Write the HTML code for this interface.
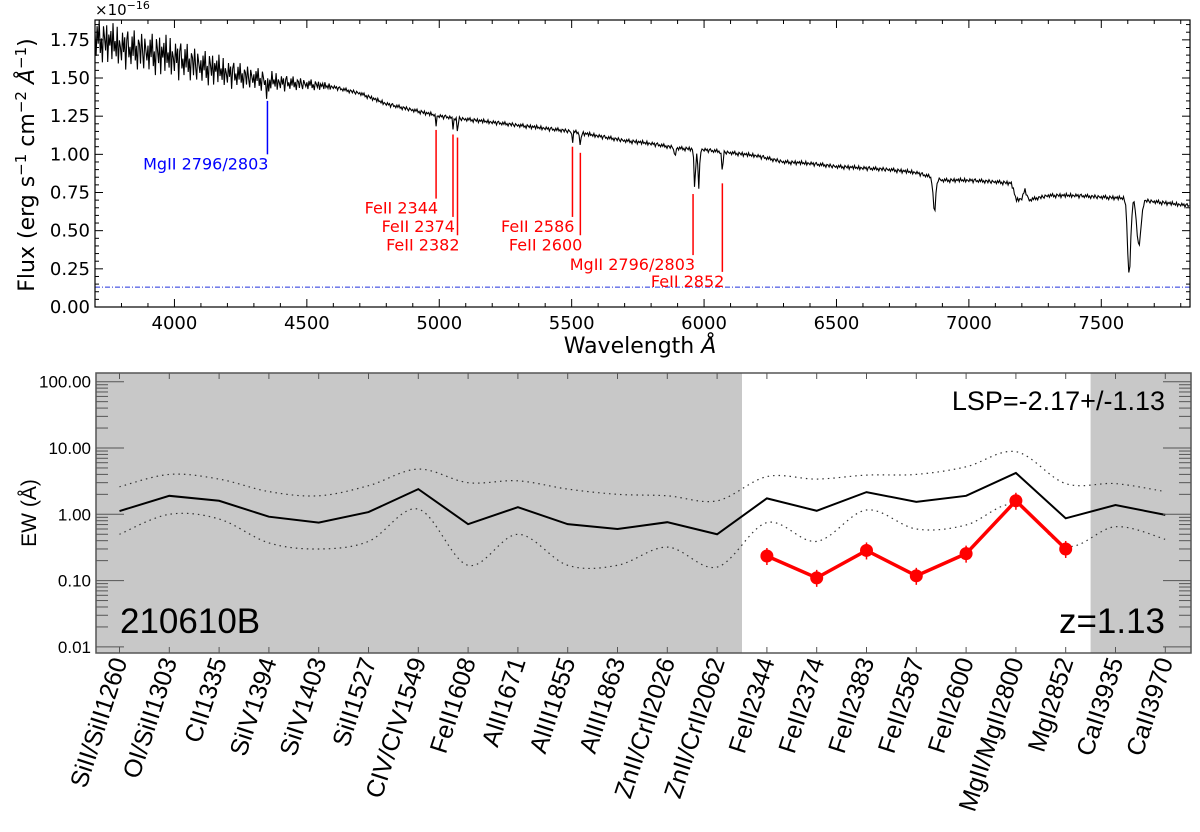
<!DOCTYPE html>
<html><head><meta charset="utf-8"><style>
html,body{margin:0;padding:0;background:#fff;}
svg{display:block;}
</style></head><body>
<svg id="fig" width="1200" height="832" viewBox="0 0 1200 832" xmlns="http://www.w3.org/2000/svg">
<g id="topPanel"></g>
<g id="botPanel"></g>
</svg>
<script>
// ---------- spectrum data ----------
const waveKnots = [3700,3800,3900,4000,4100,4200,4300,4400,4500,4600,4700,4800,4900,5000,5100,5200,5300,5400,5500,5600,5700,5800,5900,6000,6100,6200,6300,6400,6500,6600,6700,6800,6900,7000,7100,7160,7180,7200,7212,7225,7300,7400,7500,7600,7700,7800,7850];
const fluxKnots = [1.76,1.70,1.67,1.63,1.58,1.53,1.50,1.47,1.46,1.44,1.40,1.33,1.29,1.25,1.23,1.21,1.19,1.17,1.15,1.12,1.09,1.07,1.04,1.03,1.01,0.99,0.95,0.94,0.92,0.91,0.90,0.88,0.83,0.83,0.82,0.81,0.70,0.71,0.77,0.70,0.73,0.73,0.72,0.71,0.69,0.67,0.66];
const absWave  = [4346,4357,4988,5052,5069,5503,5533,5890,5965,5980,6069,6870,7605,7642];
const absDepth = [0.08,0.07,0.06,0.07,0.10,0.07,0.10,0.08,0.25,0.25,0.13,0.22,0.50,0.30];
const absWidth = [2.5,2.5,2,2,2,2,2,2,3,3,2.5,5,6,8];
const jitter = [0.3,-0.8,0.6,-0.2,0.9,-0.6,0.1,-1.0,0.7,0.2,-0.4,0.8,-0.9,0.4,-0.1,0.6,-0.7,1.0,-0.3,0.2,-0.5,0.9,-0.8,0.3,0.0,-0.6,0.7,-0.2,0.5,-1.0,0.4,0.8,-0.4,0.1,-0.7,0.6,-0.3,0.9,-0.5,0.2,-0.9,0.5,0.3,-0.6,0.8,-0.1,-0.8,0.6,0.1,-0.4];
const lineLabels = ["FeII 2344","FeII 2374","FeII 2382","FeII 2586","FeII 2600","MgII 2796/2803","FeII 2852"];
const lineRest = [2344,2374,2382,2586,2600,2800,2852];
const lineTop = [1.16,1.13,1.11,1.05,1.01,0.74,0.81];
const lineBot = [0.71,0.59,0.47,0.59,0.47,0.34,0.23];
const zAbs = 1.128;
const xTicksTop = [4000,4500,5000,5500,6000,6500,7000,7500];
const yTicksTop = [0,0.25,0.5,0.75,1.0,1.25,1.5,1.75];

// ---------- EW data ----------
const categories = ["SiII/SiII1260","OI/SiII1303","CII1335","SiIV1394","SiIV1403","SiII1527","CIV/CIV1549","FeII1608","AlII1671","AlIII1855","AlIII1863","ZnII/CrII2026","ZnII/CrII2062","FeII2344","FeII2374","FeII2383","FeII2587","FeII2600","MgII/MgII2800","MgI2852","CaII3935","CaII3970"];
const ewMean = [1.12,1.9,1.6,0.92,0.75,1.08,2.4,0.71,1.28,0.71,0.6,0.76,0.5,1.74,1.13,2.16,1.54,1.9,4.2,0.87,1.38,0.98];
const ewUpper = [2.6,4.0,3.4,2.2,1.9,2.7,4.8,3.0,3.2,2.4,2.0,1.9,1.6,3.7,3.4,3.9,4.0,5.2,8.8,2.9,2.9,2.2];
const ewLower = [0.5,1.0,0.85,0.37,0.3,0.39,1.2,0.17,0.5,0.17,0.17,0.32,0.16,0.75,0.39,1.16,0.6,0.69,1.4,0.33,0.65,0.42];
const obsIdx = [13,14,15,16,17,18,19];
const obsEW = [0.235,0.11,0.285,0.118,0.255,1.6,0.30];
const yTicksBot = [0.01,0.1,1,10,100];
const yTickLabelsBot = ["0.01","0.10","1.00","10.00","100.00"];

const NS="http://www.w3.org/2000/svg";
function mk(parent,tag,attrs,text){const e=document.createElementNS(NS,tag);for(const k in attrs)e.setAttribute(k,attrs[k]);if(text!==undefined)e.textContent=text;parent.appendChild(e);return e;}

// ---------- top panel ----------
const topG=document.getElementById('topPanel');
const TL=95,TR=1190,TT=20,TB=307;
const xMin=3700,xMax=7835,yMax=1.88;
const xT=w=>TL+(w-xMin)/(xMax-xMin)*(TR-TL);
const yT=f=>TB-f/yMax*(TB-TT);
function interp(w){for(let i=0;i<waveKnots.length-1;i++){if(w<=waveKnots[i+1]){const t=(w-waveKnots[i])/(waveKnots[i+1]-waveKnots[i]);return fluxKnots[i]+t*(fluxKnots[i+1]-fluxKnots[i]);}}return fluxKnots[fluxKnots.length-1];}
let pathD="";let kk=0;
for(let w=xMin;w<=xMax;w+=4){
  let f=interp(w);
  for(let j=0;j<absWave.length;j++){f-=absDepth[j]*Math.exp(-0.5*Math.pow((w-absWave[j])/absWidth[j],2));}
  let amp=w<4000?0.14:(w<4600?0.14-(w-4000)/600*0.12:0.014);
  f+=amp*jitter[kk%jitter.length];kk++;
  f=Math.min(f,yMax);
  pathD+=(pathD?"L":"M")+xT(w).toFixed(1)+","+yT(f).toFixed(1);
}
const clip=mk(topG,'clipPath',{id:'tclip'});mk(clip,'rect',{x:TL,y:TT,width:TR-TL,height:TB-TT});
const sp=mk(topG,'path',{d:pathD,fill:'none',stroke:'#000','stroke-width':1.1,'clip-path':'url(#tclip)'});


const err=mk(topG,'line',{x1:TL,x2:TR,y1:yT(0.13),y2:yT(0.13),stroke:'#2233dd','stroke-width':1,'stroke-dasharray':'5,2,1,2'});


const bx=xT(2800*1.554);
const bl=mk(topG,'line',{x1:bx,x2:bx,y1:yT(1.35),y2:yT(1.0),stroke:'#0000ff','stroke-width':1.5});


const bt=mk(topG,'text',{x:bx+1,y:yT(1.0)+15,'text-anchor':'end','font-family':'DejaVu Sans, sans-serif','font-size':16,fill:'#0000ff'},"MgII 2796/2803");


for(let i=0;i<lineRest.length;i++){
  const x=xT(lineRest[i]*(1+zAbs));
  const l=mk(topG,'line',{x1:x,x2:x,y1:yT(lineTop[i]),y2:yT(lineBot[i]),stroke:'#ff0000','stroke-width':1.5});
  
  
  const t=mk(topG,'text',{x:x+2,y:yT(lineBot[i])+15,'text-anchor':'end','font-family':'DejaVu Sans, sans-serif','font-size':16,fill:'#ff0000'},lineLabels[i]);
  
  
}
const tf=mk(topG,'rect',{x:TL,y:TT,width:TR-TL,height:TB-TT,fill:'none',stroke:'#000','stroke-width':1.2});


for(let w=3800;w<=xMax;w+=100){const x=xT(w);const maj=w%500===0;const L=maj?8:4;
  mk(topG,'line',{x1:x,x2:x,y1:TB,y2:TB-L,stroke:'#000','stroke-width':1});
  mk(topG,'line',{x1:x,x2:x,y1:TT,y2:TT+L,stroke:'#000','stroke-width':1});}
for(const w of xTicksTop){const t=mk(topG,'text',{x:xT(w),y:TB+22,'text-anchor':'middle','font-family':'DejaVu Sans, sans-serif','font-size':18},String(w));
  
  }
for(let v=0;v<=yMax+1e-9;v+=0.05){const y=yT(v);const maj=Math.abs(v/0.25-Math.round(v/0.25))<1e-6;const L=maj?8:4;
  mk(topG,'line',{x1:TL,x2:TL+L,y1:y,y2:y,stroke:'#000','stroke-width':1});
  mk(topG,'line',{x1:TR,x2:TR-L,y1:y,y2:y,stroke:'#000','stroke-width':1});}
for(const v of yTicksTop){const t=mk(topG,'text',{x:TL-5,y:yT(v)+6,'text-anchor':'end','font-family':'DejaVu Sans, sans-serif','font-size':18},v.toFixed(2));
  
  }
const sc=mk(topG,'text',{x:TL,y:15,'font-family':'DejaVu Sans, sans-serif','font-size':15},"×10");
mk(sc,'tspan',{dy:-6,'font-size':11},"−16");


const yl=mk(topG,'text',{x:0,y:0,transform:'translate(34,165) rotate(-90)','text-anchor':'middle','font-family':'DejaVu Sans, sans-serif','font-size':22},"Flux (erg s");
mk(yl,'tspan',{dy:-8,'font-size':15},"−1");mk(yl,'tspan',{dy:8}," cm");mk(yl,'tspan',{dy:-8,'font-size':15},"−2");mk(yl,'tspan',{dy:8,'font-style':'italic'}," Å");mk(yl,'tspan',{dy:-8,'font-size':15},"−1");mk(yl,'tspan',{dy:8},")");


const xl=mk(topG,'text',{x:640,y:353,'text-anchor':'middle','font-family':'DejaVu Sans, sans-serif','font-size':22},"Wavelength ");
mk(xl,'tspan',{'font-style':'italic'},"Å");



// ---------- bottom panel ----------
const botG=document.getElementById('botPanel');
const BL=96,BR=1191,BT=373,BB=653;
const x0=119.5,dx=49.8;
const xB=i=>x0+i*dx;
const yB=v=>381.7+(2-Math.log10(v))*66.3;
const FF='Liberation Sans, Helvetica, sans-serif';
const g1=mk(botG,'rect',{x:BL,y:BT,width:(xB(12)+xB(13))/2-BL,height:BB-BT,fill:'#c8c8c8'});


const g2=mk(botG,'rect',{x:(xB(19)+xB(20))/2,y:BT,width:BR-(xB(19)+xB(20))/2,height:BB-BT,fill:'#c8c8c8'});


function smoothPath(vals){const p=vals.map((v,i)=>[xB(i),yB(v)]);let s="M"+p[0][0]+","+p[0][1];
  for(let i=0;i<p.length-1;i++){const a=p[Math.max(0,i-1)],b=p[i],c=p[i+1],e=p[Math.min(p.length-1,i+2)];
    const c1=[b[0]+(c[0]-a[0])/6,b[1]+(c[1]-a[1])/6],c2=[c[0]-(e[0]-b[0])/6,c[1]-(e[1]-b[1])/6];
    s+="C"+c1[0].toFixed(1)+","+c1[1].toFixed(1)+" "+c2[0].toFixed(1)+","+c2[1].toFixed(1)+" "+c[0].toFixed(1)+","+c[1].toFixed(1);}
  return s;}
const up=mk(botG,'path',{d:smoothPath(ewUpper),fill:'none',stroke:'#333','stroke-width':1.2,'stroke-dasharray':'1.5,4'});


const lo=mk(botG,'path',{d:smoothPath(ewLower),fill:'none',stroke:'#333','stroke-width':1.2,'stroke-dasharray':'1.5,4'});


const mean=mk(botG,'polyline',{points:ewMean.map((v,i)=>xB(i)+","+yB(v)).join(" "),fill:'none',stroke:'#000','stroke-width':2});


const obs=mk(botG,'polyline',{points:obsEW.map((v,i)=>xB(obsIdx[i])+","+yB(v)).join(" "),fill:'none',stroke:'#ff0000','stroke-width':3.5});


for(let i=0;i<obsEW.length;i++){
  const x=xB(obsIdx[i]),y=yB(obsEW[i]);
  mk(botG,'line',{x1:x,x2:x,y1:y-8,y2:y+9,stroke:'#ff0000','stroke-width':1.5});
  const c=mk(botG,'circle',{cx:x,cy:y,r:6.5,fill:'#ff0000'});
  
  
}
const bf=mk(botG,'rect',{x:BL,y:BT,width:BR-BL,height:BB-BT,fill:'none',stroke:'#555','stroke-width':1.5});


for(let dcd=-2;dcd<=2;dcd++){for(let m=1;m<=9;m++){const v=m*Math.pow(10,dcd);const y=yB(v);if(y<BT||y>BB)continue;const L=m===1?28:12;
  mk(botG,'line',{x1:BL,x2:BL+L,y1:y,y2:y,stroke:'#555','stroke-width':1});
  mk(botG,'line',{x1:BR,x2:BR-L,y1:y,y2:y,stroke:'#555','stroke-width':1});}}
yTicksBot.forEach((v,i)=>{const t=mk(botG,'text',{x:BL-5,y:yB(v)+6,'text-anchor':'end','font-family':FF,'font-size':17},yTickLabelsBot[i]);
  
  });
categories.forEach((c,i)=>{const x=xB(i);
  mk(botG,'line',{x1:x,x2:x,y1:BB,y2:BB-6,stroke:'#555','stroke-width':1});
  mk(botG,'line',{x1:x,x2:x,y1:BT,y2:BT+6,stroke:'#555','stroke-width':1});
  const t=mk(botG,'text',{x:0,y:0,transform:'translate('+(x+8)+','+(BB+8)+') rotate(-72)','text-anchor':'end','font-family':FF,'font-size':25},c);
  
  });
const ewl=mk(botG,'text',{x:0,y:0,transform:'translate(36,513) rotate(-90)','text-anchor':'middle','font-family':FF,'font-size':21},"EW (Å)");


const lsp=mk(botG,'text',{x:1165,y:410,'text-anchor':'end','font-family':FF,'font-size':27},"LSP=-2.17+/-1.13");


const grb=mk(botG,'text',{x:120,y:633,'font-family':FF,'font-size':35},"210610B");


const zt=mk(botG,'text',{x:1165,y:633,'text-anchor':'end','font-family':FF,'font-size':35},"z=1.13");


</script>
</body></html>
